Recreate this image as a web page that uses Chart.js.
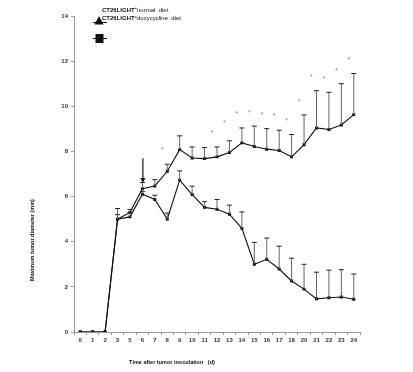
<!DOCTYPE html>
<html>
<head>
<meta charset="utf-8">
<script src="https://cdn.jsdelivr.net/npm/chart.js@4.4.1/dist/chart.umd.min.js"></script>
<style>
  html, body { margin: 0; padding: 0; background: #fff; }
  #wrap { width: 413px; height: 372px; }
</style>
</head>
<body>
<div id="wrap"><canvas id="tumorChart" width="413" height="372"></canvas></div>
<script>
// days after inoculation (4 and 19 are not on the axis)
const days = ["0", "1", "2", "3", "5", "6", "7", "8", "9", "10", "11", "12", "13", "14", "15", "16", "17", "18", "20", "21", "22", "23", "24"];

const normalDiet = [0, 0, 0, 5.0, 5.3, 6.35, 6.47, 7.12, 8.08, 7.71, 7.68, 7.76, 7.95, 8.38, 8.22, 8.1, 8.04, 7.76, 8.3, 9.04, 8.97, 9.17, 9.63];
const normalSd = [0, 0, 0, 0.47, 0.13, 0.27, 0.28, 0.31, 0.61, 0.49, 0.49, 0.44, 0.52, 0.66, 0.9, 0.91, 0.9, 0.99, 1.32, 1.65, 1.65, 1.83, 1.82];

const doxyDiet = [0, 0, 0, 5.0, 5.1, 6.1, 5.87, 5.0, 6.73, 6.09, 5.52, 5.44, 5.22, 4.59, 3.0, 3.22, 2.79, 2.26, 1.9, 1.47, 1.52, 1.55, 1.45];
const doxySd = [0, 0, 0, 0.2, 0.2, 0.12, 0.19, 0.27, 0.41, 0.37, 0.25, 0.43, 0.4, 0.73, 0.97, 0.94, 1.01, 1.01, 1.1, 1.18, 1.22, 1.21, 1.12];

// significance asterisks (height on the y axis), null = none
const starY = [null, null, null, null, null, null, null, 8.13, null, null, null, 8.89, 9.35, 9.75, 9.79, 9.68, 9.65, 9.42, 10.27, 11.37, 11.3, 11.64, 12.14];

const yTicks = [0, 2, 4, 6, 8, 10, 12, 14];

// arrow marking start of doxycycline
const arrowIdx = 5;
const arrowFrom = 7.7;
const arrowTo = 6.6;

const legendNames = ["normal  diet", "doxycycline  diet"];

const tickFont = { family: "'Liberation Sans', Arial, sans-serif", size: 6, weight: "bold" };

// error bars (upper only) + asterisks + arrow
const extras = {
  id: "extras",
  afterDatasetsDraw(chart) {
    const c = chart.ctx;
    const xs = chart.scales.x;
    const ys = chart.scales.y;

    const bars = [[normalDiet, normalSd], [doxyDiet, doxySd]];
    c.save();
    bars.forEach(([vals, sd]) => {
      vals.forEach((v, i) => {
        if (!sd[i]) return;
        const x = xs.getPixelForValue(i);
        const y0 = ys.getPixelForValue(v);
        const y1 = ys.getPixelForValue(v + sd[i]);
        c.strokeStyle = "#666";
        c.lineWidth = 1;
        c.beginPath();
        c.moveTo(x, y0);
        c.lineTo(x, y1);
        c.stroke();
        c.strokeStyle = "#222";
        c.beginPath();
        c.moveTo(x - 2.5, y1);
        c.lineTo(x + 2.5, y1);
        c.stroke();
      });
    });

    c.fillStyle = "#888";
    c.font = "7px 'Liberation Sans', Arial, sans-serif";
    c.textAlign = "center";
    c.textBaseline = "middle";
    starY.forEach((v, i) => {
      if (v === null) return;
      c.fillText("*", xs.getPixelForValue(i) - 5, ys.getPixelForValue(v) + 2);
    });

    // arrow
    const ax = xs.getPixelForValue(arrowIdx) + 0.5;
    const ay0 = ys.getPixelForValue(arrowFrom);
    const ay1 = ys.getPixelForValue(arrowTo);
    c.strokeStyle = "#111";
    c.fillStyle = "#111";
    c.lineWidth = 1.2;
    c.beginPath();
    c.moveTo(ax, ay0);
    c.lineTo(ax, ay1 - 4);
    c.stroke();
    c.beginPath();
    c.moveTo(ax - 2.5, ay1 - 5);
    c.lineTo(ax + 2.5, ay1 - 5);
    c.lineTo(ax, ay1);
    c.closePath();
    c.fill();
    c.restore();
  },
  afterDraw(chart) {
    const c = chart.ctx;
    c.save();
    c.fillStyle = "#111";
    c.textBaseline = "middle";

    // legend text with superscript +
    const lx = 102;
    [10, 18.5].forEach((ly, k) => {
      c.font = "bold 6px 'Liberation Sans', Arial, sans-serif";
      c.textAlign = "left";
      c.fillText("CT26LIGHT", lx, ly);
      let w = c.measureText("CT26LIGHT").width;
      c.font = "bold 4px 'Liberation Sans', Arial, sans-serif";
      c.fillText("+", lx + w, ly - 2);
      w += c.measureText("+").width;
      c.font = "6px 'Liberation Sans', Arial, sans-serif";
      c.fillText(legendNames[k], lx + w, ly);
    });

    // legend markers
    c.strokeStyle = "#111";
    c.lineWidth = 1;
    c.beginPath();
    c.moveTo(93, 22.5); c.lineTo(107, 22.5);
    c.moveTo(93, 38.5); c.lineTo(107, 38.5);
    c.stroke();
    c.beginPath();
    c.moveTo(99, 16);
    c.lineTo(103.5, 24.5);
    c.lineTo(94.5, 24.5);
    c.closePath();
    c.fill();
    c.fillRect(95.5, 34, 8, 9);

    // axis titles
    c.font = "bold 5.5px 'Liberation Sans', Arial, sans-serif";
    c.textAlign = "center";
    c.fillText("Time after tumor inoculation   (d)", 172, 362);
    c.translate(32, 240);
    c.rotate(-Math.PI / 2);
    c.fillText("Maximum tumor diameter (mm)", 0, 0);
    c.restore();
  }
};

const ctx = document.getElementById("tumorChart").getContext("2d");

let chart = new Chart(ctx, {
  type: "line",
  data: {
    labels: days,
    datasets: [
      {
        label: "CT26LIGHT+normal diet",
        data: normalDiet,
        borderColor: "#111",
        backgroundColor: "#111",
        borderWidth: 1.1,
        pointRadius: 1.3,
        pointStyle: "rect",
        tension: 0,
      },
      {
        label: "CT26LIGHT+doxycycline diet",
        data: doxyDiet,
        borderColor: "#111",
        backgroundColor: "#111",
        borderWidth: 1.1,
        pointRadius: 1.3,
        pointStyle: "rect",
        tension: 0,
      },
    ],
  },
  options: {
    responsive: false,
    animation: false,
    devicePixelRatio: 1,
    layout: { padding: { top: 16, right: 53, left: 0, bottom: 0 } },
    plugins: { legend: { display: false }, tooltip: { enabled: false } },
    scales: {
      x: {
        offset: true,
        grid: { display: true, offset: true, drawOnChartArea: false, tickLength: 3, color: "#999", tickColor: "#999" },
        border: { color: "#999", width: 1 },
        ticks: { color: "#333", font: tickFont, padding: 2, autoSkip: false, maxRotation: 0 },
        afterFit(scale) { scale.height = 40; },
      },
      y: {
        min: 0,
        max: 14,
        afterBuildTicks(scale) { scale.ticks = yTicks.map((v) => ({ value: v })); },
        grid: { display: true, drawOnChartArea: false, tickLength: 3, color: "#999", tickColor: "#999" },
        border: { color: "#999", width: 1 },
        ticks: { color: "#333", font: tickFont, padding: 3 },
        afterFit(scale) { scale.width = 74; },
      },
    },
  },
  plugins: [extras],
});
</script>
</body>
</html>
